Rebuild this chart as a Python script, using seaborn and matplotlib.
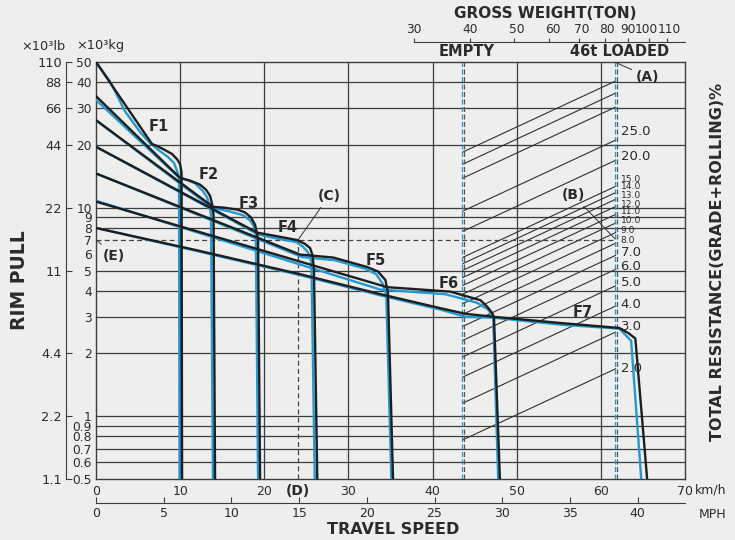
import numpy as np
import pandas as pd
import matplotlib
matplotlib.use("Agg")
import matplotlib.pyplot as plt
import seaborn as sns

# rim pull curves: (travel speed km/h, rim pull x10^3 kg)
f1_black = [(0, 50), (6.66, 20.2), (7.25, 19.8), (8.2, 18.9), (9.04, 18.1), (9.63, 17.1),
            (9.99, 16.2), (10.17, 14.7), (10.23, 0.5)]
f1_blue = [(0, 50), (1.66, 40.4), (3.45, 29.0), (5.23, 23.1), (6.42, 20.4), (7.6, 18.7),
           (8.56, 17.5), (9.27, 16.4), (9.63, 15.0), (9.87, 14.0), (9.93, 0.5)]
f2_black = [(0, 34.3), (9.99, 13.9), (11.18, 13.5), (12.37, 12.9), (13.08, 12.2), (13.56, 11.4),
            (13.8, 10.4), (13.97, 9.2), (14.15, 0.5)]
f2_blue = [(0, 32.9), (9.75, 14.1), (11.77, 13.1), (12.72, 12.0), (13.2, 11.2), (13.5, 10.2),
           (13.67, 9.2), (13.9, 0.5)]
f3_black = [(0, 26.3), (13.91, 10.1), (15.3, 10.0), (16.77, 9.8), (17.7, 9.5), (18.4, 9.0),
            (18.9, 8.3), (19.14, 7.5), (19.26, 7.0), (19.5, 0.5)]
f3_blue = [(0, 26.3), (13.8, 10.0), (15.9, 9.6), (17.5, 9.2), (18.3, 8.7), (18.8, 8.1),
           (19.0, 7.4), (19.26, 0.5)]
f4_black = [(0, 19.6), (19.14, 7.6), (21.5, 7.3), (23.9, 7.0), (24.85, 6.7), (25.45, 6.4),
            (25.74, 5.9), (25.9, 5.1), (26.3, 0.5)]
f4_blue = [(0, 19.6), (19.26, 7.45), (21.6, 7.1), (23.8, 6.85), (24.6, 6.5), (25.2, 6.1),
           (25.6, 5.5), (26.0, 0.5)]
f5_black = [(0, 14.6), (24.26, 5.96), (28.2, 5.77), (32.2, 5.2), (33.5, 4.95), (34.4, 4.5),
            (34.7, 3.9), (35.3, 0.5)]
f5_blue = [(0, 14.6), (24.5, 5.8), (28.4, 5.6), (32.0, 5.1), (33.3, 4.8), (34.1, 4.3),
           (34.5, 3.8), (35.1, 0.5)]
f6_black = [(0, 10.7), (34.6, 4.16), (42.1, 3.96), (45.7, 3.6), (46.5, 3.35), (47.1, 3.12),
            (47.3, 2.98), (48.0, 0.5)]
f6_blue = [(0, 10.8), (33.8, 4.05), (41.5, 3.85), (45.3, 3.5), (46.6, 3.25), (47.2, 2.98),
           (47.8, 0.5)]
f7_black = [(0, 8.0), (12.37, 6.2), (24.26, 4.8), (33.8, 3.85), (40.9, 3.3), (43.9, 3.1),
            (47.2, 3.0), (55.2, 2.8), (62.2, 2.65), (63.3, 2.5), (64.1, 2.36), (65.5, 0.5)]
f7_blue = [(0, 8.0), (12.37, 6.15), (24.26, 4.75), (33.8, 3.8), (40.9, 3.25), (43.9, 3.0),
           (47.2, 2.97), (55.2, 2.75), (62.2, 2.63), (63.6, 2.3), (64.8, 0.5)]

gear_names = ["F1", "F2", "F3", "F4", "F5", "F6", "F7"]
gear_label_speed = [7.4, 13.4, 18.1, 22.8, 33.2, 41.9, 57.9]
gear_label_pull = [24.4, 14.4, 10.5, 8.0, 5.6, 4.35, 3.13]

# total resistance lines (% of gross weight)
resistance = [48, 42, 36, 25, 20, 15, 14, 13, 12, 11, 10, 9, 8, 7, 6, 5, 4, 3, 2]
res_labels = [25, 20, 15, 14, 13, 12, 11, 10, 9, 8, 7, 6, 5, 4, 3, 2]
res_label_pull = [23.1, 17.7, 13.7, 12.6, 11.4, 10.4, 9.55, 8.64, 7.81, 6.93, 6.07, 5.2,
                  4.4, 3.42, 2.68, 1.70]
empty_t = 38.5
loaded_t = 84.5

kg_ticks = [0.5, 0.6, 0.7, 0.8, 0.9, 1, 2, 3, 4, 5, 6, 7, 8, 9, 10, 20, 30, 40, 50]
kg_grid = [0.6, 0.7, 0.8, 0.9, 1, 2, 3, 4, 5, 8, 9, 10, 20, 30, 40]
lb_ticks = [1.1, 2.2, 4.4, 11, 22, 44, 66, 88, 110]
kmh_ticks = [0, 10, 20, 30, 40, 50, 60, 70]
mph_ticks = [0, 5, 10, 15, 20, 25, 30, 35, 40]
ton_ticks = [30, 40, 50, 60, 70, 80, 90, 100, 110]

# gross weight scale sits on the top right: log scale, 30 t at 37.8 km/h
W0, K0, K_DEC = 30.0, 37.8, 53.3


def kmh_to_ton(k):
    return W0 * 10 ** ((np.asarray(k, dtype=float) - K0) / K_DEC)


def ton_to_kmh(w):
    w = np.clip(np.asarray(w, dtype=float), 1e-9, None)
    return K0 + K_DEC * np.log10(w / W0)


BLUE = "#1f9ad6"
BLACK = "#1e1e1e"
GRID = "#3c3c3c"
TXT = "#2b2b2b"
BG = "#eeeeec"

sns.set_style("white")
plt.rcParams["font.family"] = ["DejaVu Sans"]
plt.rcParams["text.color"] = TXT
plt.rcParams["xtick.color"] = TXT
plt.rcParams["ytick.color"] = TXT

fig = plt.figure(figsize=(7.35, 5.4), dpi=100, facecolor=BG)
ax = fig.add_axes([96 / 735, 61 / 540, 589 / 735, 417 / 540], facecolor=BG)
ax.set_yscale("log")
ax.set_xlim(0, 70)
ax.set_ylim(0.5, 50)

# grid
for v in kg_grid:
    ax.axhline(v, color=GRID, lw=0.9, zorder=1)
for v in kmh_ticks[1:-1]:
    ax.axvline(v, color=GRID, lw=0.9, zorder=1)

# resistance lines between empty and loaded weight
rows = []
for r in resistance:
    for w in (empty_t, loaded_t):
        rows.append({"res": r, "speed": float(ton_to_kmh(w)), "pull": w * r / 100})
res_df = pd.DataFrame(rows)
sns.lineplot(data=res_df, x="speed", y="pull", units="res", estimator=None, sort=False,
             color="#2f2f2f", lw=0.8, ax=ax, zorder=2, legend=False)

k_empty = float(ton_to_kmh(empty_t))
k_loaded = float(ton_to_kmh(loaded_t))
for k in (k_empty, k_loaded):
    ax.axvline(k - 0.12, color=BLUE, lw=0.9, ls=(0, (4, 2)), zorder=2)
    ax.axvline(k + 0.15, color="#555555", lw=0.9, ls=(0, (4, 2)), zorder=2)

for r, p in zip(res_labels, res_label_pull):
    small = 8 <= r <= 15
    ax.annotate(f"{r:.1f}", xy=(k_loaded, p), xytext=(3.5, 0),
                textcoords="offset points", va="center", ha="left",
                fontsize=6.6 if small else 9.5, color=TXT, zorder=5)

# reading example: dashed lines
ax.plot([0, k_loaded], [7, 7], color="#444444", lw=0.9, ls=(0, (4, 2.5)), zorder=2)
ax.plot([24, 24], [0.5, 7], color="#444444", lw=0.9, ls=(0, (4, 2.5)), zorder=2)

# rim pull curves
curves = [f1_blue, f2_blue, f3_blue, f4_blue, f5_blue, f6_blue, f7_blue]
for c in curves:
    d = pd.DataFrame(c, columns=["speed", "pull"])
    sns.lineplot(data=d, x="speed", y="pull", sort=False, estimator=None, color=BLUE,
                 lw=1.7, ax=ax, zorder=3)
curves = [f1_black, f2_black, f3_black, f4_black, f5_black, f6_black, f7_black]
for c in curves:
    d = pd.DataFrame(c, columns=["speed", "pull"])
    sns.lineplot(data=d, x="speed", y="pull", sort=False, estimator=None, color=BLACK,
                 lw=1.7, ax=ax, zorder=4)

for name, s, p in zip(gear_names, gear_label_speed, gear_label_pull):
    ax.text(s, p, name, fontsize=10.5, fontweight="bold", ha="center", va="center",
            color=TXT, zorder=6)

arrow = dict(arrowstyle="-", lw=0.7, color="#333333", shrinkA=1, shrinkB=0)
ax.annotate("(A)", xy=(k_loaded + 0.1, 49.5), xytext=(65.6, 42.5), fontsize=10,
            fontweight="bold", ha="center", va="center", arrowprops=arrow,
            annotation_clip=False)
ax.annotate("(B)", xy=(k_loaded - 0.1, 7.1), xytext=(56.7, 11.5), fontsize=10,
            fontweight="bold", ha="center", va="center", arrowprops=arrow)
ax.annotate("(C)", xy=(24, 7.0), xytext=(27.7, 11.4), fontsize=10,
            fontweight="bold", ha="center", va="center", arrowprops=arrow)
ax.annotate("(E)", xy=(0.15, 6.95), xytext=(2.1, 5.9), fontsize=10,
            fontweight="bold", ha="center", va="center", arrowprops=arrow)
ax.annotate("(D)", xy=(24, 0), xycoords=("data", "axes fraction"), xytext=(0, -3.5),
            textcoords="offset points", ha="center", va="top", fontsize=10,
            fontweight="bold")

# main axis ticks
for s in ax.spines.values():
    s.set_color(GRID)
    s.set_linewidth(1.0)
ax.set_yticks(kg_ticks)
ax.set_yticklabels([f"{v:g}" for v in kg_ticks])
ax.yaxis.set_minor_locator(matplotlib.ticker.NullLocator())
ax.set_xticks(kmh_ticks)
ax.set_xticklabels([str(v) for v in kmh_ticks])
ax.tick_params(axis="x", length=0, labelsize=9, pad=4)
ax.tick_params(axis="y", length=0, labelsize=8.8, pad=3)
ax.set_xlabel("")
ax.set_ylabel("")

# lb scale on the left
lb = ax.secondary_yaxis(-30 / 589, functions=(lambda v: v * 2.2, lambda v: v / 2.2))
lb.set_yticks(lb_ticks)
lb.set_yticklabels([f"{v:g}" for v in lb_ticks])
lb.yaxis.set_minor_locator(matplotlib.ticker.NullLocator())
lb.tick_params(axis="y", direction="in", length=4, labelsize=9.3, pad=3, color=GRID)
lb.spines["left"].set_color(GRID)

# MPH scale under the km/h scale
mph = ax.secondary_xaxis(-24 / 417, functions=(lambda v: v / 1.609344, lambda v: v * 1.609344))
mph.set_xticks(mph_ticks)
mph.set_xticklabels([str(v) for v in mph_ticks])
mph.xaxis.set_minor_locator(matplotlib.ticker.NullLocator())
mph.tick_params(axis="x", direction="in", length=4, labelsize=9, pad=3, color=GRID)
mph.spines["bottom"].set_color(GRID)

# gross weight scale on top (labels placed by hand so 90/100/110 don't collide)
top_pos = 1 + 20 / 417
top = ax.secondary_xaxis(top_pos, functions=(kmh_to_ton, ton_to_kmh))
top.set_xticks(ton_ticks)
top.set_xticklabels([])
top.xaxis.set_minor_locator(matplotlib.ticker.NullLocator())
top.tick_params(axis="x", direction="out", length=3, color=GRID)
top.spines["top"].set_color(GRID)
top.spines["top"].set_bounds(30, float(kmh_to_ton(70)))
ton_label_dx = [0, 0, 2, 3, 2, 1, 0, -1.5, 1.5]
for w, dx in zip(ton_ticks, ton_label_dx):
    ax.annotate(str(w), xy=(float(ton_to_kmh(w)), top_pos), xycoords=("data", "axes fraction"),
                xytext=(dx, 4), textcoords="offset points", ha="center", va="bottom",
                fontsize=8.8, annotation_clip=False)

# free texts
def ftext(x, y, s, **kw):
    fig.text(x / 735, 1 - y / 540, s, **kw)


ftext(545, 13, "GROSS WEIGHT(TON)", fontsize=11, fontweight="bold", ha="center", va="center")
ftext(467, 52, "EMPTY", fontsize=10.5, fontweight="bold", ha="center", va="center")
ftext(620, 52, "46t LOADED", fontsize=10.5, fontweight="bold", ha="center", va="center")
ftext(43, 46, "×10³lb", fontsize=9.3, ha="center", va="center")
ftext(100, 46, "×10³kg", fontsize=9.3, ha="center", va="center")
ftext(20, 280, "RIM PULL", fontsize=13.5, fontweight="bold", rotation=90, ha="center",
      va="center")
ftext(718, 262, "TOTAL RESISTANCE(GRADE+ROLLING)%", fontsize=11.5, fontweight="bold",
      rotation=90, ha="center", va="center")
ftext(695, 490, "km/h", fontsize=9, ha="left", va="center")
ftext(699, 514, "MPH", fontsize=9, ha="left", va="center")
ftext(393, 529, "TRAVEL SPEED", fontsize=11.5, fontweight="bold", ha="center", va="center")

fig.savefig("out.png", dpi=100, facecolor=BG)
